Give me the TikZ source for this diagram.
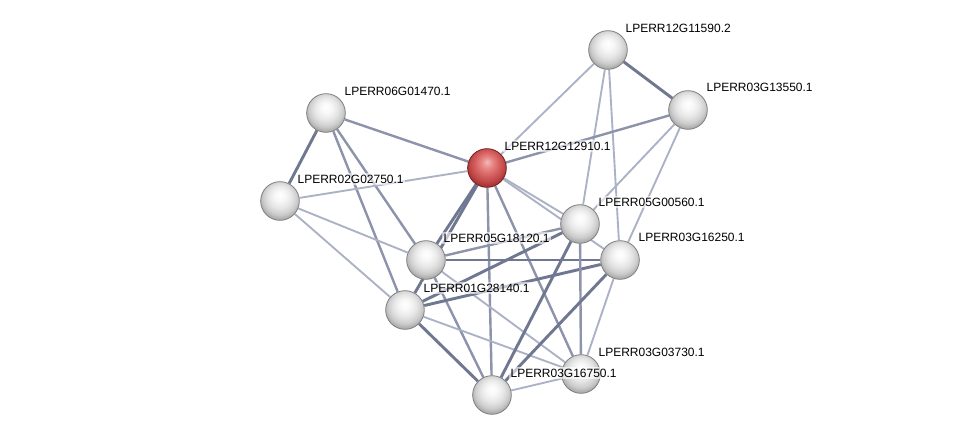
\documentclass[tikz,border=0pt]{standalone}
\usepackage{fontspec}
\setmainfont{Liberation Sans}
\usetikzlibrary{backgrounds}
\definecolor{edgedark}{RGB}{112,120,145}
\definecolor{edgemid}{RGB}{140,147,170}
\definecolor{edgelight}{RGB}{172,178,198}
\definecolor{redhi}{RGB}{245,185,185}
\definecolor{redlo}{RGB}{232,135,135}
\definecolor{redmain}{RGB}{215,98,98}
\definecolor{reddeep}{RGB}{192,72,72}
\definecolor{redrim}{RGB}{150,45,45}
\definecolor{redout}{RGB}{120,30,30}
\pgfdeclareradialshading{greysphere}{\pgfpoint{0bp}{8bp}}{%
  color(0bp)=(white); color(7bp)=(white!97!black); color(15bp)=(white!90!black);
  color(22bp)=(white!80!black); color(29bp)=(white!62!black); color(36bp)=(white!50!black); color(50bp)=(white!50!black)}
\pgfdeclareradialshading{redsphere}{\pgfpoint{0bp}{8bp}}{%
  color(0bp)=(redhi); color(7bp)=(redlo); color(15bp)=(redmain);
  color(22bp)=(reddeep); color(29bp)=(redrim); color(36bp)=(redout); color(50bp)=(redout)}
\tikzset{
  prot/.style={circle,minimum size=29pt,inner sep=0pt,draw=black!50,line width=0.6pt,shading=greysphere},
  query/.style={prot,draw=redout,shading=redsphere},
  tag/.style={anchor=west,font=\fontsize{9pt}{10pt}\selectfont,inner sep=1pt,fill=white,fill opacity=0.6,text opacity=1},
  strong/.style={draw=edgedark,line width=2.2pt},
  medium/.style={draw=edgemid,line width=1.8pt},
  weak/.style={draw=edgelight,line width=1.4pt}
}
\begin{document}
\begin{tikzpicture}[x=0.75pt,y=-0.75pt]
\useasboundingbox (0,0) rectangle (976,440);
\node[prot] (g11590) at (608,50) {};
\node[prot] (g13550) at (688,110) {};
\node[prot] (g01470) at (326,113) {};
\node[query] (g12910) at (487,168) {};
\node[prot] (g02750) at (280,201) {};
\node[prot] (g00560) at (580,224) {};
\node[prot] (g18120) at (426,260) {};
\node[prot] (g16250) at (620,260) {};
\node[prot] (g28140) at (405,310) {};
\node[prot] (g03730) at (581,374) {};
\node[prot] (g16750) at (492,395) {};
% edges
\begin{pgfonlayer}{background}
\fill[white] (0,0) rectangle (976,440);
\draw[strong] (g11590) -- (g13550);
\draw[strong] (g01470) -- (g02750);
\draw[weak] (g11590) -- (g12910);
\draw[weak] (g11590) -- (g00560);
\draw[weak] (g11590) -- (g16250);
\draw[medium] (g13550) -- (g12910);
\draw[weak] (g13550) -- (g00560);
\draw[weak] (g13550) -- (g16250);
\draw[medium] (g01470) -- (g12910);
\draw[medium] (g01470) -- (g18120);
\draw[medium] (g01470) -- (g28140);
\draw[weak] (g02750) -- (g12910);
\draw[weak] (g02750) -- (g18120);
\draw[weak] (g02750) -- (g28140);
\draw[weak] (g12910) -- (g00560);
\draw[weak] (g12910) -- (g16250);
\draw[strong] (g12910) -- (g18120);
\draw[strong] (g12910) -- (g28140);
\draw[medium] (g12910) -- (g16750);
\draw[medium] (g12910) -- (g03730);
\draw[medium] (g18120) -- (g00560);
\draw[strong] (g18120) -- (g16250);
\draw[medium] (g18120) -- (g16750);
\draw[weak] (g18120) -- (g03730);
\draw[strong] (g28140) -- (g00560);
\draw[strong] (g28140) -- (g16250);
\draw[strong] (g28140) -- (g16750);
\draw[weak] (g28140) -- (g03730);
\draw[strong] (g00560) -- (g16750);
\draw[medium] (g00560) -- (g03730);
\draw[strong] (g16250) -- (g16750);
\draw[weak] (g16250) -- (g03730);
\draw[weak] (g16750) -- (g03730);
\end{pgfonlayer}
% labels
\node[tag] (t11590) at (624,28) {LPERR12G11590.2};
\node[tag] (t13550) at (705,87) {LPERR03G13550.1};
\node[tag] (t01470) at (343,91) {LPERR06G01470.1};
\node[tag] (t12910) at (503,146) {LPERR12G12910.1};
\node[tag] (t02750) at (296,179) {LPERR02G02750.1};
\node[tag] (t00560) at (597,202) {LPERR05G00560.1};
\node[tag] (t18120) at (442,238) {LPERR05G18120.1};
\node[tag] (t16250) at (637,237) {LPERR03G16250.1};
\node[tag] (t28140) at (422,288) {LPERR01G28140.1};
\node[tag] (t03730) at (597,352) {LPERR03G03730.1};
\node[tag] (t16750) at (509,373) {LPERR03G16750.1};
\end{tikzpicture}
\end{document}
